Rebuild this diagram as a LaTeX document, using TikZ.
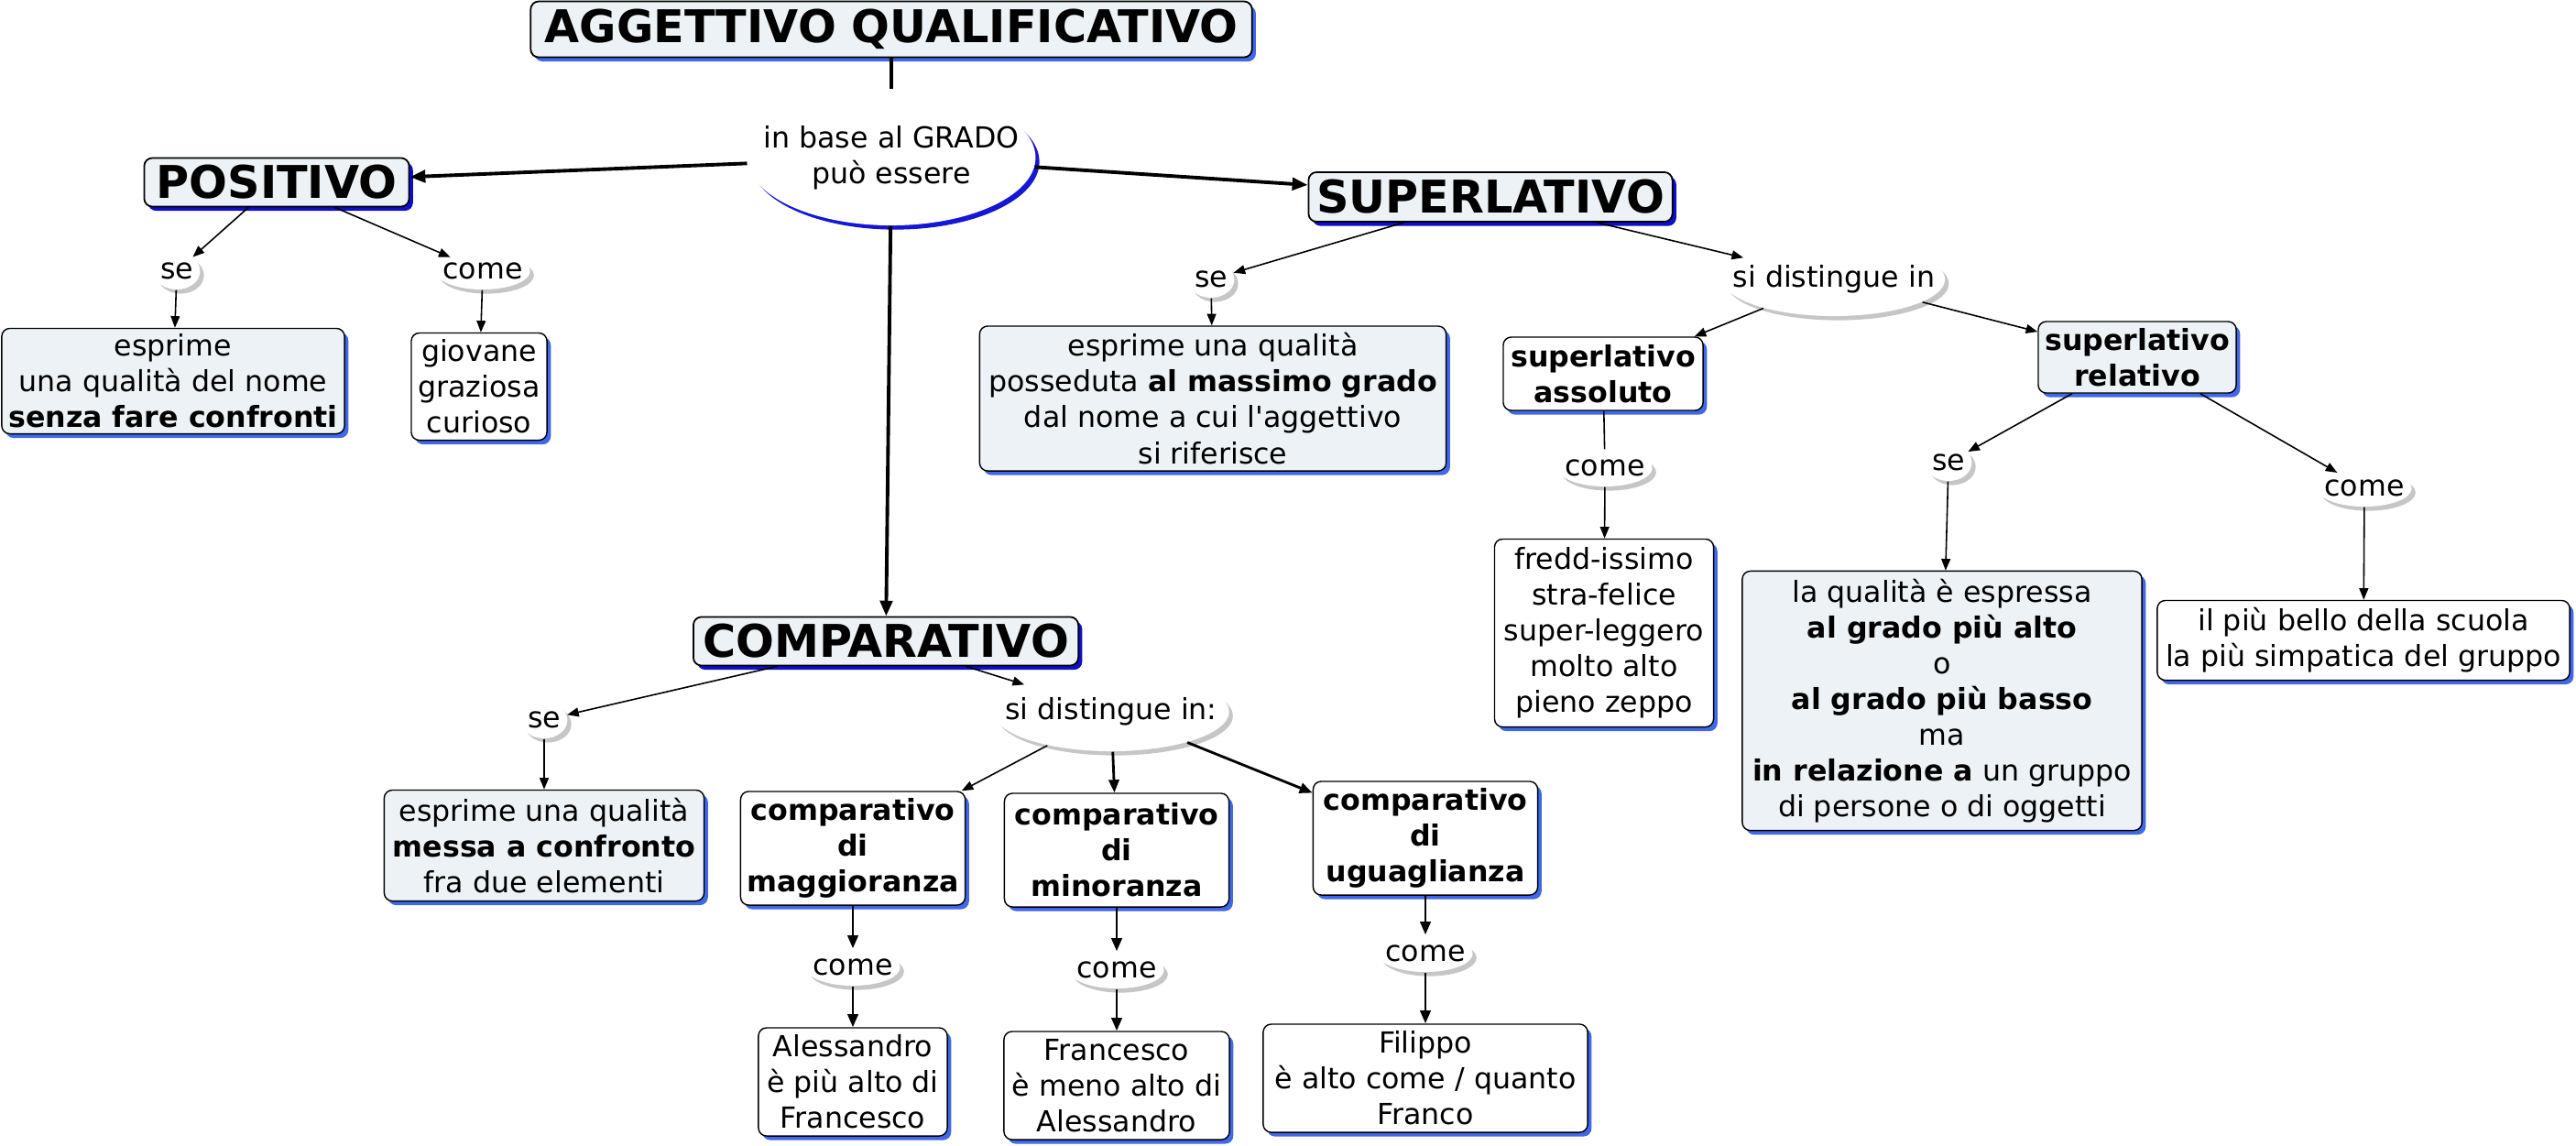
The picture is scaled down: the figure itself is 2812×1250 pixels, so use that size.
\documentclass[tikz,border=0pt]{standalone}
\usepackage{fontspec}
\setmainfont{DejaVu Sans}
\usetikzlibrary{arrows.meta,shapes.geometric,shadows}
\definecolor{boxfill}{RGB}{236,242,245}
\definecolor{darkshadow}{RGB}{14,14,204}
\definecolor{lightshadow}{RGB}{64,104,232}
\definecolor{greyshadow}{RGB}{198,198,198}
\definecolor{linkblue}{RGB}{22,22,214}

\begin{document}
\begin{tikzpicture}[x=0.01cm, y=-0.01cm,
        every node/.style={font=\fontsize{9}{11.1}\selectfont, align=center},
        shadowed/.style={drop shadow={shadow xshift=1.2pt, shadow yshift=-1.3pt, fill=#1, opacity=1}},
        category/.style={draw, line width=0.5pt, rounded corners=2.5pt, fill=boxfill, inner sep=0pt,
            shadowed=#1, font=\fontsize{14}{16}\selectfont\bfseries},
        category/.default=darkshadow,
        whitebox/.style={draw, line width=0.4pt, rounded corners=2.5pt, fill=white, inner sep=0pt, shadowed=lightshadow},
        greybox/.style={whitebox, fill=boxfill},
        strong/.style={font=\fontsize{9}{11.1}\selectfont\bfseries},
        phrase/.style={ellipse, fill=white, inner ysep=0pt, minimum height=0.4cm},
        linkphrase/.style={phrase, inner xsep=#1, shadowed=greyshadow},
        linkphrase/.default=0pt,
        conn/.style={line width=0.45pt, -{Triangle[length=3.6pt, width=2.8pt]}},
        connmid/.style={line width=0.8pt, -{Triangle[length=4pt, width=3.2pt]}},
        connthick/.style={line width=1.1pt, -{Triangle[length=4.8pt, width=3.8pt]}}]
    \useasboundingbox (0,0) rectangle (2812,1250);

    % Main concept and grade
    \node[category=lightshadow, minimum width=7.87cm, minimum height=0.61cm] (title) at (973,32) {AGGETTIVO QUALIFICATIVO};
    \node[phrase, inner xsep=-8pt, minimum height=1.48cm, shadowed=linkblue] (grado) at (973,172) {in base al GRADO\\può essere};
    \node[category, minimum width=2.89cm, minimum height=0.53cm] (pos) at (302,199) {POSITIVO};
    \node[category, minimum width=3.97cm, minimum height=0.54cm] (sup) at (1627,215) {SUPERLATIVO};
    \node[category, minimum width=4.2cm, minimum height=0.53cm] (comp) at (967,700) {COMPARATIVO};

    % Positivo
    \node[linkphrase] (posse) at (193,296) {se};
    \node[linkphrase=-2pt] (poscome) at (527,296) {come};
    \node[greybox, minimum width=3.74cm, minimum height=1.15cm] (posdef) at (189,416) {esprime\\una qualità del nome\\\textbf{senza fare confronti}};
    \node[whitebox, minimum width=1.48cm, minimum height=1.17cm] (posex) at (523,422) {giovane\\graziosa\\curioso};

    % Superlativo
    \node[linkphrase] (supse) at (1322,305) {se};
    \node[greybox, minimum width=5.09cm, minimum height=1.58cm] (supdef) at (1324,435) {esprime una qualità\\posseduta \textbf{al massimo grado}\\dal nome a cui l\textquotesingle aggettivo\\si riferisce};
    \node[linkphrase=-7pt, minimum height=0.8cm] (supdist) at (2002,305) {si distingue in};
    \node[whitebox, strong, minimum width=2.18cm, minimum height=0.8cm] (ass) at (1750,408) {superlativo\\assoluto};
    \node[greybox, strong, minimum width=2.16cm, minimum height=0.78cm] (rel) at (2333,390) {superlativo\\relativo};
    \node[linkphrase=-2pt] (asscome) at (1752,511) {come};
    \node[whitebox, minimum width=2.39cm, minimum height=2.05cm] (assex) at (1751,691) {fredd-issimo\\stra-felice\\super-leggero\\molto alto\\pieno zeppo};
    \node[linkphrase] (relse) at (2127,505) {se};
    \node[greybox, minimum width=4.36cm, minimum height=2.83cm] (reldef) at (2120,765) {la qualità è espressa\\\textbf{al grado più alto}\\o\\\textbf{al grado più basso}\\ma\\\textbf{in relazione a} un gruppo\\di persone o di oggetti};
    \node[linkphrase=-2pt] (relcome) at (2581,533) {come};
    \node[whitebox, minimum width=4.5cm, minimum height=0.87cm] (relex) at (2580,699) {il più bello della scuola\\la più simpatica del gruppo};

    % Comparativo
    \node[linkphrase] (compse) at (594,786) {se};
    \node[greybox, minimum width=3.49cm, minimum height=1.21cm] (compdef) at (594,923) {esprime una qualità\\\textbf{messa a confronto}\\fra due elementi};
    \node[linkphrase=-7pt, minimum height=0.86cm] (compdist) at (1213,777) {si distingue in:};
    \foreach \id/\x/\by/\cy/\ey/\ew/\kind/\example in {
        magg/931/926/1056/1181/2.06cm/maggioranza/{Alessandro\\è più alto di\\Francesco},
        mino/1219/928/1059/1185/2.46cm/minoranza/{Francesco\\è meno alto di\\Alessandro},
        ugua/1556/915/1041/1177/3.54cm/uguaglianza/{Filippo\\è alto come / quanto\\Franco}} {
        \node[whitebox, strong, minimum width=2.45cm, minimum height=1.24cm] (\id) at (\x,\by) {comparativo\\di\\\kind};
        \node[linkphrase=-2pt] (\id come) at (\x,\cy) {come};
        \node[whitebox, minimum width=\ew, minimum height=1.18cm] (\id ex) at (\x,\ey) {\example};
        \draw[connmid] (\id) -- (\id come);
        \draw[connmid] (\id come) -- (\id ex);
    }

    % Connectors
    \draw[line width=1pt] (title) -- (grado);
    \foreach \target in {pos, sup, comp}
        \draw[connthick] (grado) -- (\target);
    \draw[conn] (pos) -- (posse);
    \draw[conn] (pos) -- (poscome);
    \draw[conn] (posse) -- (posdef);
    \draw[conn] (poscome) -- (posex);
    \draw[conn] (sup) -- (supse);
    \draw[conn] (supse) -- (supdef);
    \draw[conn] (sup) -- (supdist);
    \draw[conn] (supdist) -- (ass);
    \draw[conn] (supdist) -- (rel);
    \draw[line width=0.45pt] (ass) -- (asscome);
    \draw[conn] (asscome) -- (assex);
    \draw[conn] (rel) -- (relse);
    \draw[conn] (relse) -- (reldef);
    \draw[conn] (rel) -- (relcome);
    \draw[conn] (relcome) -- (relex);
    \draw[conn] (comp) -- (compse);
    \draw[conn] (compse) -- (compdef);
    \draw[conn] (comp) -- (compdist);
    \draw[conn] (compdist) -- (magg);
    \draw[connmid] (compdist) -- (mino);
    \draw[connmid] (compdist) -- (ugua);
\end{tikzpicture}
\end{document}
